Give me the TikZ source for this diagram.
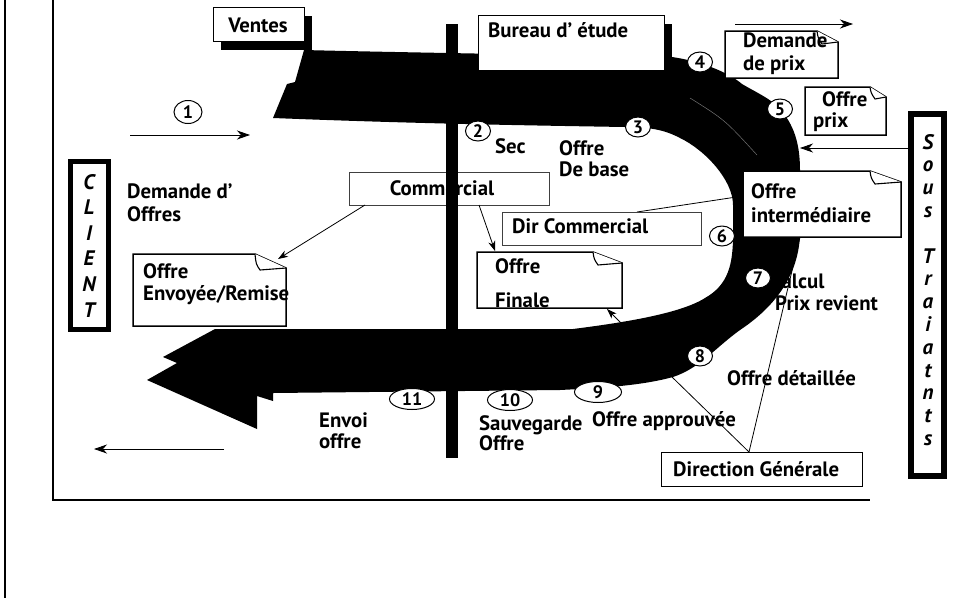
\documentclass[tikz,border=0pt]{standalone}
\usepackage{fontspec}
\setmainfont{PT Sans}
\usetikzlibrary{arrows.meta,shapes.geometric}
\newcommand\dogear[6]{%
  \draw[fold] (#1,#2) -- (#5,#2) -- (#3,#6) -- (#3,#4) -- (#1,#4) -- cycle;
  \draw[line width=1.1pt, fill=white] (#5,#2) .. controls ({#5+1},{#6-4}) .. ({#5+5},{#6+2}) -- (#3,#6);
}
\begin{document}
\begin{tikzpicture}[x=1pt,y=-1pt,
  txt/.style={font=\fontsize{20.8}{24}\selectfont\bfseries, inner sep=0pt},
  num/.style={ellipse, draw, line width=1pt, fill=white, inner sep=0pt, minimum width=25pt, minimum height=20pt, font=\fontsize{18}{18}\selectfont\bfseries},
  numw/.style={num, minimum width=45pt, minimum height=21pt},
  sbox/.style={draw, line width=0.9pt, fill=white, inner sep=0pt, anchor=north west},
  fold/.style={draw, line width=1.5pt, fill=white, line join=miter},
  arr/.style={-{Stealth[length=13pt,width=9pt,inset=4pt]}, line width=0.8pt},
  sarr/.style={-{Stealth[length=10pt,width=7pt,inset=3pt]}, line width=0.8pt},
  thinline/.style={line width=0.8pt},
  vlet/.style={font=\fontsize{21}{21}\selectfont\bfseries\itshape, inner sep=0pt, anchor=base}
]
\useasboundingbox (0,0) rectangle (956,598);
\fill[white] (0,0) rectangle (956,598);

% frames
\draw[line width=2pt] (5,0) -- (5,598);
\draw[line width=1.3pt] (53,0) -- (53,500) -- (870,500);

% connector end points
\coordinate (dcline) at (637,212);
\coordinate (oiwest) at (743,196);
\coordinate (dgtop) at (749,452);
\coordinate (band8) at (672,377);
\coordinate (oisouth) at (800,237);

% connectors that run under the band
\draw[thinline] (dcline) -- (oiwest);

% text partly hidden by the band
\node[txt, anchor=base west] (calcul) at (770,288) {Calcul};
\node[txt, anchor=base west] (prixrev) at (775,310) {Prix revient};

% the band
\fill (304,50) .. controls (380,52) and (560,55) .. (672,57)
  .. controls (700,61) and (728,72) .. (742,84)
  .. controls (752,90) and (765,96) .. (775,104)
  .. controls (792,120) and (800,140) .. (800,170)
  -- (800,235)
  .. controls (798,280) and (770,310) .. (740,330)
  .. controls (715,348) and (700,368) .. (673,377)
  .. controls (640,386) and (600,388) .. (560,390)
  -- (273,393) -- (273,401) -- (257,396) -- (257,429) -- (147,380)
  -- (177,363) -- (163,357) -- (215,329) -- (573,329)
  .. controls (620,323) and (680,314) .. (705,298)
  .. controls (728,285) and (733,265) .. (733,235)
  -- (733,205)
  .. controls (733,180) and (705,150) .. (680,138)
  .. controls (665,130) and (650,127) .. (625,127)
  .. controls (500,125) and (400,123) .. (273,118)
  -- (287,84) -- (295,82) -- cycle;
\draw[black!55, line width=0.5pt] (690,98) .. controls (725,120) .. (757,155);

% Commercial box (under the bar)
\node[sbox, draw=black!75, minimum width=200pt, minimum height=33pt] (commercial) at (349,172) {};
\node[txt, anchor=base] (commercialtxt) at (442,195) {Commercial};

% vertical bar
\fill (446,24) rectangle (458,458);

% Ventes
\fill (221,16) rectangle (312,50);
\node[sbox, minimum width=91pt, minimum height=34pt] (ventes) at (213,7) {};
\node[txt, anchor=base] (ventestxt) at (258,32) {Ventes};

% Bureau d'etude
\fill (486,24) rectangle (672,79);
\node[sbox, minimum width=186pt, minimum height=55pt] (bureau) at (478,15) {};
\node[txt, anchor=base west] (bureautxt) at (488,37) {Bureau d' étude};

% Dir Commercial
\node[sbox, draw=black!75, minimum width=199pt, minimum height=33pt] (dircom) at (502,212) {};
\node[txt, anchor=base west] (dircomtxt) at (512,233) {Dir Commercial};

% Direction Generale
\node[sbox, minimum width=201pt, minimum height=34pt] (dg) at (661,452) {};
\node[txt, anchor=base west] (dgtxt) at (673,476) {Direction Générale};

% folded documents
\dogear{725}{31}{838}{78}{817}{42}
\node[txt, anchor=base west] (dp1) at (743,47) {Demande};
\node[txt, anchor=base west] (dp2) at (743,70) {de prix};

\dogear{805}{87}{886}{135}{870}{97}
\node[txt, anchor=base west] (op1) at (822,106) {Offre};
\node[txt, anchor=base west] (op2) at (813,127) {prix};

\dogear{743}{171}{901}{237}{870}{182}
\node[txt, anchor=base west] (oi1) at (751,198) {Offre};
\node[txt, anchor=base west] (oi2) at (751,222) {intermédiaire};

\dogear{133}{254}{286}{326}{255}{268}
\node[txt, anchor=base west] (oe1) at (143,278) {Offre};
\node[txt, anchor=base west] (oe2) at (143,300) {Envoyée/Remise};

\dogear{477}{252}{622}{308}{593}{263}
\node[txt, anchor=base west] (of1) at (495,273) {Offre};
\node[txt, anchor=base west] (of2) at (495,307) {Finale};

% free texts
\node[txt, anchor=base west] (sec) at (495,153) {Sec};
\node[txt, anchor=base west] (odb1) at (559,155) {Offre};
\node[txt, anchor=base west] (odb2) at (559,176) {De base};
\node[txt, anchor=base west] (dem1) at (127,198) {Demande d'};
\node[txt, anchor=base west] (dem2) at (127,221) {Offres};
\node[txt, anchor=base west] (odet) at (727,385) {Offre détaillée};
\node[txt, anchor=base west] (oapp) at (592,426) {Offre approuvée};
\node[txt, anchor=base west] (sav1) at (479,430) {Sauvegarde};
\node[txt, anchor=base west] (sav2) at (479,450) {Offre};
\node[txt, anchor=base west] (env1) at (319,427) {Envoi};
\node[txt, anchor=base west] (env2) at (319,448) {offre};

% Direction Generale connectors (over the texts they cross)
\draw[thinline] (dgtop) -- (band8);
\draw[thinline] (dgtop) -- (oisouth);

% CLIENT
\node[draw, line width=5pt, minimum width=38pt, minimum height=168pt, inner sep=0pt] (client) at (89,245) {};
\foreach \l [count=\i from 0] in {C,L,I,E,N,T}
  \node[vlet] (cl\i) at (89,{189+25.6*\i}) {\l};

% Sous Traitants
\node[draw, line width=5.5pt, minimum width=33pt, minimum height=362pt, inner sep=0pt] (soustr) at (927.5,295) {};
\foreach \l [count=\i from 0] in {S,o,u,s,{},T,r,a,i,a,t,n,t,s}
  \node[vlet] (st\i) at (928,{149+22.8*\i}) {\l};

% numbered marks
\node[num, minimum width=28pt, minimum height=23pt] (n1) at (188,112) {1};
\node[num] (n2) at (478,131) {2};
\node[num] (n3) at (638,127) {3};
\node[num] (n4) at (700,62) {4};
\node[num] (n5) at (780,109) {5};
\node[num] (n6) at (722,236) {6};
\node[num] (n7) at (758,278) {7};
\node[num] (n8) at (700,356) {8};
\node[numw, minimum width=47pt] (n9) at (598,392) {9};
\node[numw] (n10) at (510,400) {10};
\node[numw] (n11) at (412,399) {11};

% arrows
\coordinate (a1s) at (130,135); \coordinate (a1e) at (250,135);
\draw[arr] (a1s) -- (a1e);
\coordinate (a2s) at (735,24); \coordinate (a2e) at (853,24);
\draw[arr] (a2s) -- (a2e);
\coordinate (a3s) at (224,449); \coordinate (a3e) at (94,449);
\draw[arr] (a3s) -- (a3e);
\coordinate (a4s) at (908,148); \coordinate (a4e) at (800,148);
\draw[arr] (a4s) -- (a4e);
\coordinate (c1s) at (365,205); \coordinate (c1e) at (278,259);
\draw[sarr] (c1s) -- (c1e);
\coordinate (c2s) at (479,205); \coordinate (c2e) at (495,251);
\draw[sarr] (c2s) -- (c2e);
\coordinate (c3s) at (621,323); \coordinate (c3e) at (607,309);
\draw[sarr] (c3s) -- (c3e);
\end{tikzpicture}
\end{document}
